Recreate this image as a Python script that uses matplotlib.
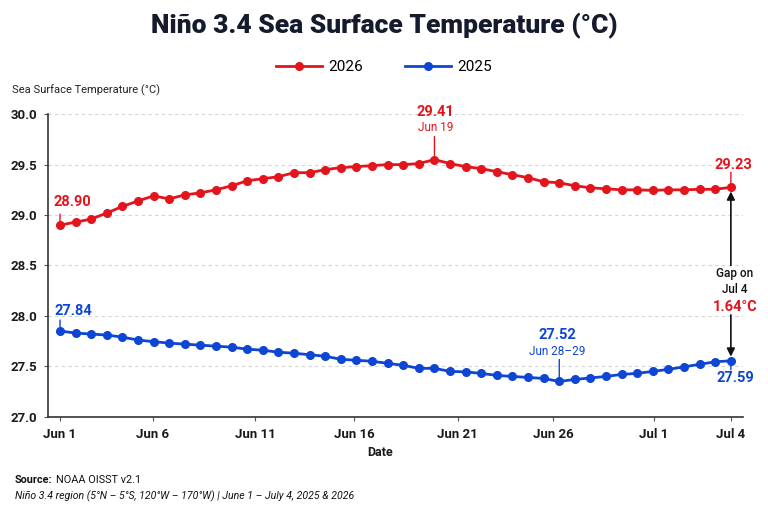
import matplotlib
matplotlib.use("Agg")
import matplotlib.pyplot as plt
import numpy as np

plt.rcParams['font.family'] = ['Roboto', 'DejaVu Sans']

# ---- data (44 evenly spaced samples, Jun 1 .. Jul 4) ----
sst_2026 = [28.90, 28.93, 28.96, 29.02, 29.085, 29.14, 29.19, 29.16, 29.20, 29.22,
            29.25, 29.29, 29.34, 29.36, 29.38, 29.42, 29.42, 29.45, 29.47, 29.48,
            29.49, 29.50, 29.50, 29.51, 29.55, 29.51, 29.48, 29.46, 29.43, 29.40,
            29.37, 29.33, 29.32, 29.29, 29.27, 29.26, 29.25, 29.25, 29.245, 29.25,
            29.25, 29.255, 29.255, 29.275]
sst_2025 = [27.85, 27.83, 27.82, 27.81, 27.79, 27.76, 27.745, 27.73, 27.72, 27.71,
            27.70, 27.69, 27.67, 27.66, 27.64, 27.63, 27.615, 27.60, 27.57, 27.56,
            27.55, 27.53, 27.51, 27.48, 27.48, 27.45, 27.445, 27.43, 27.41, 27.40,
            27.39, 27.38, 27.35, 27.37, 27.385, 27.40, 27.42, 27.43, 27.45, 27.47,
            27.495, 27.52, 27.545, 27.555]
tick_pos = [0, 5.96, 12.5, 18.85, 25.5, 31.6, 38.06, 43]
tick_labels = ["Jun 1", "Jun 6", "Jun 11", "Jun 16", "Jun 21", "Jun 26", "Jul 1", "Jul 4"]
y_ticks = [27.0, 27.5, 28.0, 28.5, 29.0, 29.5, 30.0]

# labels as printed on the chart
start_2026, peak_2026, peak_2026_date, end_2026 = "28.90", "29.41", "Jun 19", "29.23"
start_2025, low_2025, low_2025_date, end_2025 = "27.84", "27.52", "Jun 28\u201329", "27.59"
gap_label = "1.64\u00b0C"

RED = "#e3141c"
BLUE = "#0d45d4"
DARK = "#141b2d"

x = np.arange(len(sst_2026))

fig = plt.figure(figsize=(7.68, 5.12), dpi=100)
ax = fig.add_axes([0.0625, 0.186, 0.905, 0.591])

l1, = ax.plot(x, sst_2026, color=RED, lw=2.0, marker='o', ms=5.5, label="2026", zorder=3)
l2, = ax.plot(x, sst_2025, color=BLUE, lw=2.0, marker='o', ms=5.5, label="2025", zorder=3)

ax.set_xlim(-0.77, 43.78)
ax.set_ylim(27.0, 30.0)
ax.set_xticks(tick_pos)
ax.set_xticklabels(tick_labels, fontsize=9.5, fontweight='semibold', color='#1a1a1a')
ax.set_yticks(y_ticks)
ax.set_yticklabels([f"{v:.1f}" for v in y_ticks], fontsize=9.5, fontweight='semibold', color='#1a1a1a')
ax.tick_params(axis='both', length=3, width=0.8, color='#555555', pad=5)
ax.grid(axis='y', color='#d4d4d4', lw=0.8, ls=(0, (3, 3)))
ax.set_axisbelow(True)
for s in ['top', 'right']:
    ax.spines[s].set_visible(False)
for s in ['left', 'bottom']:
    ax.spines[s].set_color('#333333')
    ax.spines[s].set_linewidth(1.2)


def px(v):
    return v * 0.72  # pixels -> points at dpi 100


def label(xi, yi, txt, dx, dy, color, size=10.5, weight='bold'):
    ax.annotate(txt, xy=(xi, yi), xytext=(px(dx), px(dy)), textcoords='offset points',
                ha='center', va='center', fontsize=size, fontweight=weight, color=color, zorder=5)


def stem(xi, yi, length, color):
    ax.annotate('', xy=(xi, yi), xytext=(0, px(length)), textcoords='offset points',
                arrowprops=dict(arrowstyle='-', color=color, lw=1.0, shrinkA=0, shrinkB=3), zorder=2)


# 2026 annotations
i_peak = int(np.argmax(sst_2026))
label(0, sst_2026[0], start_2026, 12, 23, RED)
stem(0, sst_2026[0], 11, RED)
label(i_peak, sst_2026[i_peak], peak_2026, 1, 47.5, RED)
label(i_peak, sst_2026[i_peak], peak_2026_date, 1, 32, RED, size=8.5, weight='normal')
stem(i_peak, sst_2026[i_peak], 23, RED)
label(x[-1], sst_2026[-1], end_2026, 3, 22.5, RED)
stem(x[-1], sst_2026[-1], 15, RED)

# 2025 annotations
i_low = int(np.argmin(sst_2025))
label(0, sst_2025[0], start_2025, 13, 20, BLUE)
stem(0, sst_2025[0], 11, BLUE)
label(i_low, sst_2025[i_low], low_2025, -2, 46, BLUE)
label(i_low, sst_2025[i_low], low_2025_date, -2, 30, BLUE, size=8.5, weight='normal')
stem(i_low, sst_2025[i_low], 22, BLUE)
label(x[-1], sst_2025[-1], end_2025, 5, -17, BLUE)
stem(x[-1], sst_2025[-1], -9, BLUE)

# gap arrows on Jul 4
ax.annotate('', xy=(x[-1], sst_2026[-1]), xytext=(x[-1], 28.50),
            arrowprops=dict(arrowstyle='-|>', color='#111111', lw=1.2, shrinkA=0, shrinkB=3,
                            mutation_scale=12))
ax.annotate('', xy=(x[-1], sst_2025[-1]), xytext=(x[-1], 28.01),
            arrowprops=dict(arrowstyle='-|>', color='#111111', lw=1.2, shrinkA=0, shrinkB=3,
                            mutation_scale=12))
ax.text(43.27, 28.34, "Gap on\nJul 4", ha='center', va='center', fontsize=8.5,
        fontweight='medium', color='#111111', linespacing=1.25)
ax.text(43.27, 28.087, gap_label, ha='center', va='center', fontsize=10.5,
        fontweight='bold', color=RED)

# titles / labels
fig.text(0.5, 1 - 26 / 512, "Ni\u00f1o 3.4 Sea Surface Temperature (\u00b0C)", ha='center', va='center',
         fontsize=19, fontweight='black', color=DARK)
fig.legend(handles=[l1, l2], loc='center', bbox_to_anchor=(0.5, 1 - 67 / 512), ncol=2,
           frameon=False, fontsize=11, handlelength=3.0, columnspacing=2.8, handletextpad=0.4)
fig.text(12 / 768, 1 - 90 / 512, "Sea Surface Temperature (\u00b0C)", ha='left', va='center',
         fontsize=8, color='#222222')
fig.text(380 / 768, 1 - 452 / 512, "Date", ha='center', va='center', fontsize=9,
         fontweight='semibold', color='#1a1a1a')

src = fig.text(15 / 768, 1 - 480 / 512, "Source:", ha='left', va='center', fontsize=7.8,
               fontweight='bold', color='#111111')
fig.canvas.draw()
bb = src.get_window_extent()
fig.text(bb.x1 / 768 + 3 / 768, 1 - 480 / 512, "NOAA OISST v2.1", ha='left', va='center',
         fontsize=7.8, color='#111111')
fig.text(15 / 768, 1 - 496 / 512,
         "Ni\u00f1o 3.4 region (5\u00b0N \u2013 5\u00b0S, 120\u00b0W \u2013 170\u00b0W) | June 1 \u2013 July 4, 2025 & 2026",
         ha='left', va='center', fontsize=7.6, style='italic', color='#111111')

fig.savefig("out.png", dpi=100, facecolor='white')
